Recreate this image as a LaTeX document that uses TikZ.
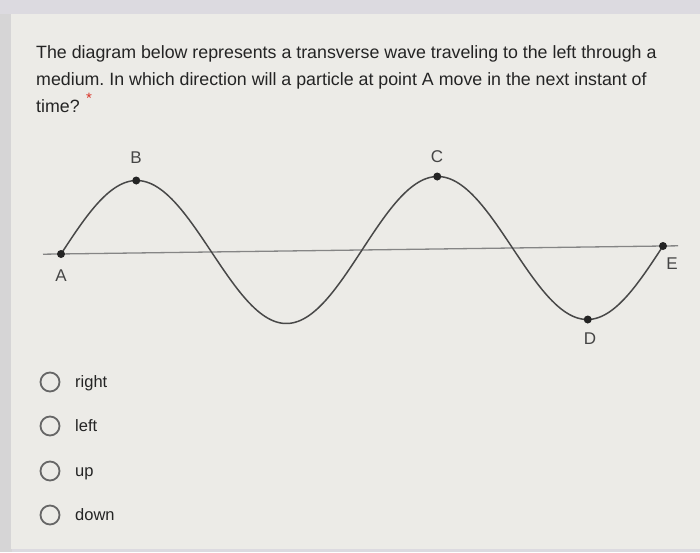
\documentclass[tikz,border=0pt]{standalone}
\usepackage{fontspec}
\setmainfont{Liberation Sans}
\definecolor{pagebg}{HTML}{DCDAE0}
\definecolor{stripbg}{HTML}{D6D5D6}
\definecolor{cardbg}{HTML}{ECEBE7}
\definecolor{ink}{HTML}{242424}
\definecolor{wavegray}{HTML}{484848}
\definecolor{axisgray}{HTML}{858585}
\definecolor{ringgray}{HTML}{666666}
\definecolor{reqred}{HTML}{D93025}

\begin{document}
\frenchspacing
\begin{tikzpicture}[x=1pt,y=-1pt,
	qline/.style={anchor=base west,inner sep=0pt,text=ink,font=\fontsize{17.8}{20}\selectfont},
	dot/.style={circle,fill=ink,inner sep=0pt,minimum size=8pt},
	lbl/.style={text=ink!85,inner sep=0pt,font=\fontsize{17}{17}\selectfont},
	radio/.style={circle,draw=ringgray,line width=1.8pt,minimum size=19pt,inner sep=0pt},
	opt/.style={anchor=base west,inner sep=0pt,text=ink,font=\fontsize{16.5}{18}\selectfont}]
	\useasboundingbox (0,0) rectangle (700,552);
	\fill[pagebg] (0,0) rectangle (700,552);
	\fill[stripbg] (0,14) rectangle (12,552);
	\fill[cardbg] (11,14) rectangle (700,549);
	\foreach \T [count=\i] in {The diagram below represents a transverse wave traveling to the left through a,
		medium. In which direction will a particle at point A move in the next instant of, time?}
	{\node[qline] (q\i) at (36,31+27*\i) {\T};}
	\node[text=reqred,inner sep=0pt,font=\fontsize{15}{15}\selectfont] (req) at (89,98) {*};
	\coordinate (axL) at (43,254.2);
	\coordinate (axR) at (678,245.8);
	\draw[axisgray,line width=1.3pt] (axL) -- (axR);
	\draw[wavegray,line width=1.5pt] plot[domain=61:663,samples=240,smooth]
		(\x,{254-(\x-61)/602*8-72.5*sin((\x-61)/301*360)});
	\foreach \N/\X/\Y in {A/61/254, B/136.25/180.5, C/437.25/176.5, D/587.75/319.5, E/663/246}
	{\node[dot] (\N) at (\X,\Y) {};}
	\foreach \N/\X/\Y in {A/61/276, B/136/158, C/437/157, D/590/339, E/672/264}
	{\node[lbl] (lbl\N) at (\X,\Y) {\N};}
	\foreach \T/\Y [count=\i] in {right/382, left/426, up/471, down/515}
	{\node[radio] (r\i) at (50,\Y) {};
	 \node[opt] (o\i) at (75,\Y+5) {\T};}
\end{tikzpicture}
\end{document}
